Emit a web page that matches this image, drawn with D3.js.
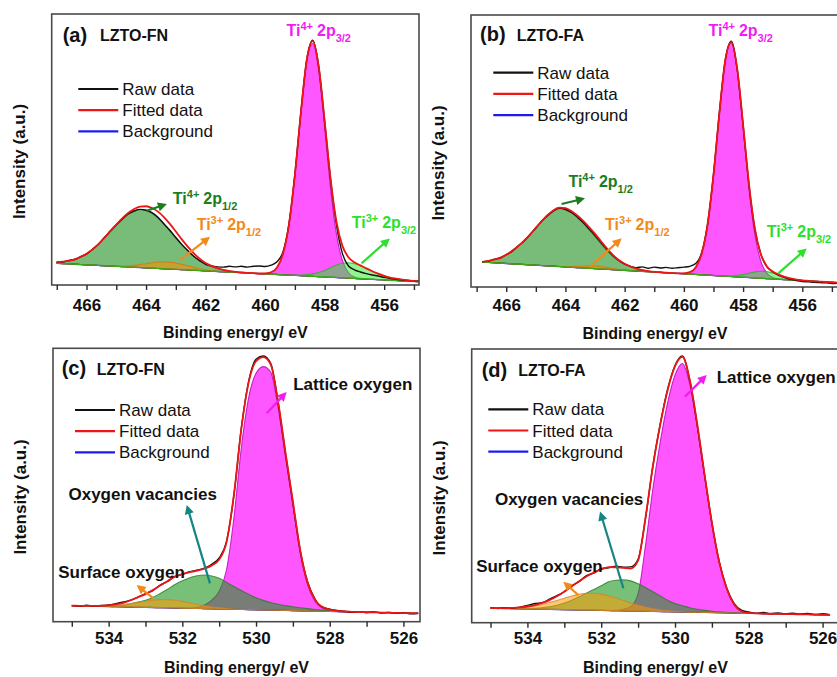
<!DOCTYPE html>
<html lang="en">
<head>
<meta charset="utf-8">
<title>XPS Ti 2p and O 1s spectra of LZTO-FN and LZTO-FA</title>
<script src="https://cdn.jsdelivr.net/npm/d3@7/dist/d3.min.js"></script>
<style>
  html, body { margin: 0; padding: 0; background: #fff; }
  svg { display: block; }
  text { font-family: "Liberation Sans", Arial, Helvetica, sans-serif; }
</style>
</head>
<body>
<svg id="chart" width="837" height="677"></svg>
<script>
// ===================== Ti 2p, LZTO-FN =====================
// binding energy grid (eV) and intensities (a.u., 0-100 full scale)
const tiEnergyFN = [
  467.0, 466.8, 466.6, 466.4, 466.2, 466.0, 465.8, 465.6, 465.4, 465.2,
  465.0, 464.8, 464.6, 464.4, 464.2, 464.0, 463.8, 463.6, 463.4, 463.2,
  463.0, 462.8, 462.6, 462.4, 462.2, 462.0, 461.8, 461.6, 461.4, 461.2,
  461.0, 460.8, 460.6, 460.4, 460.2, 460.0, 459.8, 459.6, 459.4, 459.2,
  459.0, 458.8, 458.6, 458.4, 458.2, 458.0, 457.8, 457.6, 457.4, 457.2,
  457.0, 456.8, 456.6, 456.4, 456.2, 456.0, 455.8, 455.6, 455.4, 455.2,
  455.0, 454.8
];
const tiRawFN = [
  8.6, 8.5, 9.1, 9.4, 10.5, 11.4, 13.2, 15.0, 17.5, 19.8,
  22.1, 24.3, 26.2, 27.3, 27.9, 27.6, 26.7, 25.0, 22.6, 20.2,
  17.5, 15.0, 12.7, 10.6, 9.0, 7.6, 7.0, 6.7, 6.6, 6.9,
  6.7, 6.9, 6.6, 6.9, 7.0, 6.8, 7.3, 8.6, 12.2, 22.5,
  40.8, 63.6, 83.3, 90.3, 80.8, 60.4, 38.8, 22.0, 11.5, 7.0,
  5.6, 4.8, 4.2, 3.7, 3.3, 2.8, 2.4, 2.1, 1.8, 1.65,
  1.5, 1.45
];
const tiBackgroundFN = [[467.0, 8.0], [454.8, 1.2]];
// fitted components (height above background)
const ti4p12FN = [
  0.4, 0.7, 1.1, 1.8, 2.8, 4.1, 5.8, 7.9, 10.3, 12.9,
  15.3, 17.6, 19.5, 20.8, 21.4, 21.2, 20.2, 18.6, 16.5, 14.1,
  11.6, 9.2, 7.1, 5.2, 3.7, 2.5, 1.7, 1.1, 0.65, 0.38,
  0.21, 0.12, 0.06, 0.03, 0, 0, 0, 0, 0, 0,
  0, 0, 0, 0, 0, 0, 0, 0, 0, 0,
  0, 0, 0, 0, 0, 0, 0, 0, 0, 0,
  0, 0
];
const ti3p12FN = [
  0, 0, 0, 0, 0, 0, 0, 0, 0, 0.05,
  0.11, 0.23, 0.42, 0.70, 1.08, 1.53, 1.98, 2.36, 2.57, 2.57,
  2.36, 1.98, 1.53, 1.08, 0.70, 0.42, 0.23, 0.11, 0.05, 0,
  0, 0, 0, 0, 0, 0, 0, 0, 0, 0,
  0, 0, 0, 0, 0, 0, 0, 0, 0, 0,
  0, 0, 0, 0, 0, 0, 0, 0, 0, 0,
  0, 0
];
const ti4p32FN = [
  0, 0, 0, 0, 0, 0, 0, 0, 0, 0,
  0, 0, 0, 0, 0, 0, 0, 0, 0, 0,
  0, 0, 0, 0, 0, 0, 0, 0, 0, 0,
  0, 0, 0, 0, 0.03, 0.16, 0.71, 2.6, 7.7, 18.6,
  36.9, 59.8, 79.3, 85.9, 76.1, 55.2, 32.7, 15.8, 6.3, 2.0,
  0.54, 0.12, 0.02, 0, 0, 0, 0, 0, 0, 0,
  0, 0
];
const ti3p32FN = [
  0, 0, 0, 0, 0, 0, 0, 0, 0, 0,
  0, 0, 0, 0, 0, 0, 0, 0, 0, 0,
  0, 0, 0, 0, 0, 0, 0, 0, 0, 0,
  0, 0, 0, 0, 0, 0, 0, 0, 0, 0.02,
  0.1, 0.25, 0.5, 0.9, 1.5, 2.4, 3.5, 4.6, 5.4, 5.7,
  5.4, 4.8, 3.9, 3.0, 2.2, 1.5, 1.0, 0.7, 0.45, 0.3,
  0.2, 0.12
];

// ===================== Ti 2p, LZTO-FA =====================
const tiEnergyFA = [
  466.8, 466.6, 466.4, 466.2, 466.0, 465.8, 465.6, 465.4, 465.2, 465.0,
  464.8, 464.6, 464.4, 464.2, 464.0, 463.8, 463.6, 463.4, 463.2, 463.0,
  462.8, 462.6, 462.4, 462.2, 462.0, 461.8, 461.6, 461.4, 461.2, 461.0,
  460.8, 460.6, 460.4, 460.2, 460.0, 459.8, 459.6, 459.4, 459.2, 459.0,
  458.8, 458.6, 458.4, 458.2, 458.0, 457.8, 457.6, 457.4, 457.2, 457.0,
  456.8, 456.6, 456.4, 456.2, 456.0, 455.8, 455.6, 455.4, 455.2, 455.0,
  454.8
];
const tiRawFA = [
  9.3, 9.5, 10.2, 10.6, 11.9, 13.1, 15.1, 16.8, 19.3, 21.6,
  24.3, 26.2, 28.0, 28.9, 28.5, 27.4, 25.7, 23.7, 21.4, 19.0,
  16.4, 13.9, 11.6, 9.8, 8.4, 7.6, 7.1, 7.4, 6.9, 7.3,
  7.0, 7.2, 6.9, 7.1, 7.3, 7.6, 8.6, 12.6, 23.0, 41.3,
  64.2, 83.6, 90.4, 80.2, 59.6, 37.5, 21.2, 12.0, 7.5, 5.5,
  4.3, 3.5, 2.8, 2.4, 2.0, 1.9, 1.7, 1.6, 1.5, 1.3,
  1.4
];
const tiBackgroundFA = [[466.8, 9.15], [454.8, 1.58]];
const ti4p12FA = [
  0.1, 0.6, 1.2, 2.0, 3.2, 4.8, 6.6, 8.7, 11.0, 13.8,
  16.3, 18.7, 20.6, 21.6, 21.5, 20.4, 18.7, 16.6, 14.2, 11.8,
  9.3, 7.0, 5.0, 3.4, 2.3, 1.5, 0.9, 0.5, 0.25, 0.1,
  0.05, 0, 0, 0, 0, 0, 0, 0, 0, 0,
  0, 0, 0, 0, 0, 0, 0, 0, 0, 0,
  0, 0, 0, 0, 0, 0, 0, 0, 0, 0,
  0
];
const ti3p12FA = [
  0, 0, 0, 0, 0, 0, 0, 0, 0, 0,
  0, 0, 0, 0.05, 0.12, 0.25, 0.45, 0.7, 0.9, 1.0,
  0.9, 0.7, 0.45, 0.25, 0.12, 0.05, 0, 0, 0, 0,
  0, 0, 0, 0, 0, 0, 0, 0, 0, 0,
  0, 0, 0, 0, 0, 0, 0, 0, 0, 0,
  0, 0, 0, 0, 0, 0, 0, 0, 0, 0,
  0
];
const ti4p32FA = [
  0, 0, 0, 0, 0, 0, 0, 0, 0, 0,
  0, 0, 0, 0, 0, 0, 0, 0, 0, 0,
  0, 0, 0, 0, 0, 0, 0, 0, 0, 0,
  0, 0, 0, 0.03, 0.16, 0.71, 2.6, 7.7, 18.6, 36.9,
  59.8, 79.3, 85.9, 76.1, 55.2, 32.7, 15.8, 6.3, 2.0, 0.54,
  0.12, 0.02, 0, 0, 0, 0, 0, 0, 0, 0,
  0
];
const ti3p32FA = [
  0, 0, 0, 0, 0, 0, 0, 0, 0, 0,
  0, 0, 0, 0, 0, 0, 0, 0, 0, 0,
  0, 0, 0, 0, 0, 0, 0, 0, 0, 0,
  0, 0, 0, 0, 0, 0, 0, 0, 0, 0,
  0.04, 0.1, 0.25, 0.55, 1.01, 1.61, 2.19, 2.55, 2.55, 2.19,
  1.61, 1.01, 0.55, 0.25, 0.1, 0.04, 0, 0, 0, 0,
  0
];

// ===================== O 1s, LZTO-FN =====================
const oEnergyFN = [
  535.0, 534.8, 534.6, 534.4, 534.2, 534.0, 533.8, 533.6, 533.4, 533.2,
  533.0, 532.8, 532.6, 532.4, 532.2, 532.0, 531.8, 531.6, 531.4, 531.2,
  531.0, 530.8, 530.6, 530.4, 530.2, 530.0, 529.8, 529.6, 529.4, 529.2,
  529.0, 528.8, 528.6, 528.4, 528.2, 528.0, 527.8, 527.6, 527.4, 527.2,
  527.0, 526.8, 526.6, 526.4, 526.2, 526.0, 525.8, 525.6
];
const oRawFN = [
  5.9, 5.6, 6.0, 5.7, 5.9, 6.1, 6.6, 7.2, 7.9, 9.0,
  10.3, 11.4, 13.4, 14.7, 16.6, 17.3, 18.3, 18.8, 19.6, 21.0,
  23.3, 29.4, 46.2, 70.6, 87.9, 96.0, 97.2, 94.4, 80.0, 61.5,
  43.6, 26.0, 14.5, 8.3, 5.3, 4.6, 4.1, 3.8, 3.4, 3.7,
  3.3, 3.6, 3.2, 3.4, 3.1, 3.3, 2.9, 3.1
];
const oBackgroundFN = [[535.0, 5.85], [525.6, 3.05]];
const latticeFN = [
  0, 0, 0, 0, 0, 0, 0, 0, 0, 0,
  0, 0, 0, 0, 0, 0, 0, 0.3, 1.3, 3.2,
  6.5, 14.5, 33.5, 59.0, 77.5, 86.5, 89.0, 87.0, 74.0, 56.0,
  38.5, 21.0, 9.5, 3.5, 1.2, 0.4, 0.1, 0, 0, 0,
  0, 0, 0, 0, 0, 0, 0, 0
];
const vacancyFN = [
  0, 0, 0, 0.02, 0.05, 0.1, 0.3, 0.6, 1.2, 1.9,
  2.6, 3.7, 5.2, 6.8, 8.6, 10.0, 11.2, 12.0, 12.3, 12.0,
  11.2, 9.8, 8.3, 6.9, 5.6, 4.4, 3.5, 2.8, 2.2, 1.75,
  1.4, 1.1, 0.85, 0.6, 0.4, 0.25, 0.15, 0.08, 0.04, 0.02,
  0, 0, 0, 0, 0, 0, 0, 0
];
const surfaceFN = [
  0, 0.02, 0.04, 0.08, 0.16, 0.3, 0.52, 0.84, 1.26, 1.75,
  2.24, 2.67, 2.94, 3.0, 2.83, 2.47, 2.0, 1.5, 1.04, 0.67,
  0.4, 0.22, 0.11, 0.05, 0.02, 0, 0, 0, 0, 0,
  0, 0, 0, 0, 0, 0, 0, 0, 0, 0,
  0, 0, 0, 0, 0, 0, 0, 0
];

// ===================== O 1s, LZTO-FA =====================
const oEnergyFA = [
  535.0, 534.8, 534.6, 534.4, 534.2, 534.0, 533.8, 533.6, 533.4, 533.2,
  533.0, 532.8, 532.6, 532.4, 532.2, 532.0, 531.8, 531.6, 531.4, 531.2,
  531.0, 530.8, 530.6, 530.4, 530.2, 530.0, 529.8, 529.6, 529.4, 529.2,
  529.0, 528.8, 528.6, 528.4, 528.2, 528.0, 527.8, 527.6, 527.4, 527.2,
  527.0, 526.8, 526.6, 526.4, 526.2, 526.0, 525.8
];
const oRawFA = [
  5.5, 5.2, 5.5, 5.3, 5.7, 6.3, 7.0, 7.3, 8.6, 9.9,
  11.3, 13.5, 15.0, 17.2, 18.1, 19.7, 20.1, 20.6, 20.3, 20.4,
  23.2, 38.0, 57.3, 72.6, 85.3, 94.0, 97.5, 88.5, 72.5, 54.1,
  36.6, 22.3, 12.8, 7.1, 4.6, 3.9, 3.4, 3.7, 3.3, 3.6,
  3.2, 3.5, 3.1, 3.4, 3.0, 3.3, 2.9
];
const oBackgroundFA = [[535.0, 5.3], [525.8, 2.85]];
const latticeFA = [
  0, 0, 0, 0, 0, 0, 0, 0, 0, 0,
  0, 0, 0, 0, 0, 0, 0, 0.14, 0.6, 1.6,
  6.4, 24.1, 44.8, 62.0, 76.4, 86.5, 90.8, 83.3, 67.9, 49.8,
  32.2, 18.1, 8.7, 3.1, 0.66, 0.13, 0, 0, 0, 0,
  0, 0, 0, 0, 0, 0, 0
];
const vacancyFA = [
  0, 0, 0, 0.03, 0.08, 0.15, 0.3, 0.55, 0.9, 1.5,
  2.4, 3.5, 4.8, 6.2, 7.6, 9.0, 10.5, 11.1, 11.3, 11.0,
  10.0, 8.7, 7.2, 5.7, 4.2, 3.0, 2.3, 1.6, 1.1, 0.75,
  0.5, 0.3, 0.18, 0.1, 0.05, 0, 0, 0, 0, 0,
  0, 0, 0, 0, 0, 0, 0
];
const surfaceFA = [
  0.03, 0.07, 0.14, 0.25, 0.44, 0.74, 1.17, 1.75, 2.48, 3.32,
  4.2, 5.03, 5.7, 6.1, 6.19, 5.94, 5.39, 4.63, 3.76, 2.89,
  2.1, 1.44, 0.94, 0.58, 0.34, 0.19, 0.1, 0.05, 0.02, 0,
  0, 0, 0, 0, 0, 0, 0, 0, 0, 0,
  0, 0, 0, 0, 0, 0, 0
];

// ===================== axis ticks and text =====================
const tiMajorTicks = [466, 464, 462, 460, 458, 456];
const tiMinorTicks = [467, 465, 463, 461, 459, 457, 455];
const oMajorTicks = [534, 532, 530, 528, 526];
const oMinorTicks = [535, 533, 531, 529, 527];
const legendLabels = ["Raw data", "Fitted data", "Background"];
const xAxisTitle = "Binding energy/ eV";
const yAxisTitle = "Intensity (a.u.)";

// ===================== styling =====================
const FONT = '"Liberation Sans", Arial, Helvetica, sans-serif';
const STYLE = {
  ti4p32:  { fill: "#ff00ff", opacity: 0.66, stroke: "#b400b4" },
  ti4p12:  { fill: "#1f8f1f", opacity: 0.60, stroke: "#0d5c0d" },
  ti3p12:  { fill: "#ff8c00", opacity: 0.55, stroke: "#d97800" },
  ti3p32:  { fill: "#22ee22", opacity: 0.50, stroke: "#19b819" },
  lattice: { fill: "#ff00ff", opacity: 0.66, stroke: "#b400b4" },
  vacancy: { fill: "#1e961e", opacity: 0.60, stroke: "#2a7a2a" },
  surface: { fill: "#ff9900", opacity: 0.55, stroke: "#d9822b" }
};
const RAW_COLOR = "#111111";
const FIT_COLOR = "#ee1515";
const BG_COLOR = "#1c1cf0";
const C = { magenta: "#f21cf2", dkgreen: "#1b7d1b", orange: "#f28a1a", ltgreen: "#2ee02e", teal: "#148585", text: "#111111" };

// ===================== panels =====================
const panels = [
  {
    tag: "(a)", name: "LZTO-FN",
    energy: tiEnergyFN, raw: tiRawFN, background: tiBackgroundFN,
    components: [
      { values: ti4p32FN, style: STYLE.ti4p32 },
      { values: ti4p12FN, style: STYLE.ti4p12 },
      { values: ti3p12FN, style: STYLE.ti3p12 },
      { values: ti3p32FN, style: STYLE.ti3p32 }
    ],
    major: tiMajorTicks, minor: tiMinorTicks,
    layout: { left: 51.7, right: 419, top: 14, bottom: 285, eMax: 467.17, eMin: 454.83,
              tickPad: 9, titleY: 338, tagDx: 11, nameDx: 48.3, tagDy: 27.5,
              legDx: 26.6, legDy: 75 },
    ionLabels: [
      { e: 459.28, v: 91.9, charge: "4+", j: "3/2", color: C.magenta },
      { e: 463.10, v: 29.9, charge: "4+", j: "1/2", color: C.dkgreen },
      { e: 462.30, v: 20.3, charge: "3+", j: "1/2", color: C.orange },
      { e: 457.09, v: 20.9, charge: "3+", j: "3/2", color: C.ltgreen }
    ],
    textLabels: [],
    arrows: [
      { from: [463.98, 27.4], to: [463.30, 29.9], color: C.dkgreen },
      { from: [462.86, 9.2], to: [461.85, 17.8], color: C.orange },
      { from: [456.76, 8.0], to: [455.81, 17.2], color: C.ltgreen }
    ]
  },
  {
    tag: "(b)", name: "LZTO-FA",
    energy: tiEnergyFA, raw: tiRawFA, background: tiBackgroundFA,
    components: [
      { values: ti4p32FA, style: STYLE.ti4p32 },
      { values: ti4p12FA, style: STYLE.ti4p12 },
      { values: ti3p12FA, style: STYLE.ti3p12 },
      { values: ti3p32FA, style: STYLE.ti3p32 }
    ],
    major: tiMajorTicks, minor: tiMinorTicks,
    layout: { left: 471, right: 839, top: 15, bottom: 287, eMax: 467.19, eMin: 454.76,
              tickPad: 7, titleY: 338.5, tagDx: 9, nameDx: 45.7, tagDy: 26,
              legDx: 22.3, legDy: 57.7 },
    ionLabels: [
      { e: 459.17, v: 92.3, charge: "4+", j: "3/2", color: C.magenta },
      { e: 463.90, v: 36.9, charge: "4+", j: "1/2", color: C.dkgreen },
      { e: 462.66, v: 21.0, charge: "3+", j: "1/2", color: C.orange },
      { e: 457.20, v: 18.3, charge: "3+", j: "3/2", color: C.ltgreen }
    ],
    textLabels: [],
    arrows: [
      { from: [464.13, 30.5], to: [463.34, 32.6], color: C.dkgreen },
      { from: [463.17, 7.5], to: [462.10, 17.9], color: C.orange },
      { from: [456.81, 5.0], to: [455.85, 14.2], color: C.ltgreen }
    ]
  },
  {
    tag: "(c)", name: "LZTO-FN",
    energy: oEnergyFN, raw: oRawFN, background: oBackgroundFN,
    components: [
      { values: latticeFN, style: STYLE.lattice },
      { values: vacancyFN, style: STYLE.vacancy },
      { values: surfaceFN, style: STYLE.surface }
    ],
    major: oMajorTicks, minor: oMinorTicks,
    layout: { left: 53, right: 420, top: 348.3, bottom: 621.7, eMax: 535.51, eMin: 525.55,
              tickPad: 5, titleY: 672.5, tagDx: 8.7, nameDx: 43.7, tagDy: 26.7,
              legDx: 22, legDy: 61.7 },
    ionLabels: [],
    textLabels: [
      { e: 528.99, v: 84.7, text: "Lattice oxygen" },
      { e: 535.09, v: 44.5, text: "Oxygen vacancies" },
      { e: 535.37, v: 15.9, text: "Surface oxygen" }
    ],
    arrows: [
      { from: [529.71, 76.2], to: [529.17, 84.0], color: C.magenta },
      { from: [531.25, 14.0], to: [531.88, 42.7], color: C.teal },
      { from: [532.79, 8.6], to: [533.24, 13.4], color: C.orange }
    ]
  },
  {
    tag: "(d)", name: "LZTO-FA",
    energy: oEnergyFA, raw: oRawFA, background: oBackgroundFA,
    components: [
      { values: latticeFA, style: STYLE.lattice },
      { values: vacancyFA, style: STYLE.vacancy },
      { values: surfaceFA, style: STYLE.surface }
    ],
    major: oMajorTicks, minor: oMinorTicks,
    layout: { left: 471.7, right: 839.2, top: 349, bottom: 622.7, eMax: 535.51, eMin: 525.55,
              tickPad: 4.5, titleY: 673, tagDx: 10, nameDx: 46.6, tagDy: 27.7,
              legDx: 16.6, legDy: 60.3 },
    ionLabels: [],
    textLabels: [
      { e: 528.87, v: 87.5, text: "Lattice oxygen" },
      { e: 534.88, v: 43.0, text: "Oxygen vacancies" },
      { e: 535.39, v: 18.6, text: "Surface oxygen" }
    ],
    arrows: [
      { from: [529.73, 82.6], to: [529.14, 90.5], color: C.magenta },
      { from: [531.40, 12.6], to: [532.03, 40.6], color: C.teal },
      { from: [532.62, 10.1], to: [533.03, 15.0], color: C.orange }
    ]
  }
];

// ===================== drawing =====================
const svg = d3.select("#chart");
const defs = svg.append("defs");
svg.append("rect").attr("width", 837).attr("height", 677).attr("fill", "#fff");

function arrow(g, p1, p2, color) {
  const dx = p2[0] - p1[0], dy = p2[1] - p1[1];
  const len = Math.hypot(dx, dy), ux = dx / len, uy = dy / len;
  const headL = 9, headW = 4.6;
  const bx = p2[0] - ux * headL, by = p2[1] - uy * headL;
  g.append("line").attr("x1", p1[0]).attr("y1", p1[1]).attr("x2", bx + ux).attr("y2", by + uy)
    .attr("stroke", color).attr("stroke-width", 2.2);
  g.append("path")
    .attr("d", `M${p2[0]},${p2[1]}L${bx - uy * headW},${by + ux * headW}L${bx + uy * headW},${by - ux * headW}Z`)
    .attr("fill", color);
}

panels.forEach((p, idx) => {
  const L = p.layout;
  const E = p.energy;
  [p.raw, ...p.components.map(c => c.values)].forEach(arr => {
    if (arr.length !== E.length) throw new Error(`panel ${p.tag}: series length ${arr.length} != ${E.length}`);
  });

  const x = d3.scaleLinear().domain([L.eMax, L.eMin]).range([L.left, L.right]);
  const y = d3.scaleLinear().domain([0, 100]).range([L.bottom, L.top]);
  const base = d3.scaleLinear().domain(p.background.map(d => d[0])).range(p.background.map(d => d[1]));

  defs.append("clipPath").attr("id", "clip" + idx).append("rect")
    .attr("x", L.left).attr("y", L.top).attr("width", L.right - L.left).attr("height", L.bottom - L.top);

  const g = svg.append("g");
  const plot = g.append("g").attr("clip-path", `url(#clip${idx})`);

  const line = d3.line().curve(d3.curveMonotoneX).x(d => x(d[0])).y(d => y(d[1]));

  // background line
  plot.append("path").datum(E.map(e => [e, base(e)]))
    .attr("d", d3.line().x(d => x(d[0])).y(d => y(d[1])))
    .attr("fill", "none").attr("stroke", BG_COLOR).attr("stroke-width", 1.3);

  // fitted component peaks, filled down to the background
  const area = d3.area().curve(d3.curveMonotoneX)
    .x(d => x(d[0])).y0(d => y(d[1])).y1(d => y(d[2]));
  p.components.forEach(c => {
    const pts = E.map((e, i) => [e, base(e), base(e) + c.values[i]]);
    plot.append("path").datum(pts).attr("d", area)
      .attr("fill", c.style.fill).attr("fill-opacity", c.style.opacity)
      .attr("stroke", c.style.stroke).attr("stroke-opacity", 0.8).attr("stroke-width", 1.1);
  });

  // raw spectrum
  plot.append("path").datum(E.map((e, i) => [e, p.raw[i]])).attr("d", line)
    .attr("fill", "none").attr("stroke", RAW_COLOR).attr("stroke-width", 1.4);

  // fitted envelope = background + sum of components
  const fit = E.map((e, i) => [e, base(e) + d3.sum(p.components, c => c.values[i])]);
  plot.append("path").datum(fit).attr("d", line)
    .attr("fill", "none").attr("stroke", FIT_COLOR).attr("stroke-width", 1.8);

  // frame
  g.append("rect").attr("x", L.left).attr("y", L.top)
    .attr("width", L.right - L.left).attr("height", L.bottom - L.top)
    .attr("fill", "none").attr("stroke", "#4a4a4a").attr("stroke-width", 1.6);

  // bottom axis: labelled major ticks + unlabelled minor ticks
  const styleAxis = sel => {
    sel.select(".domain").remove();
    sel.attr("color", "#2a2a2a").attr("font-family", FONT);
    sel.selectAll(".tick line").attr("stroke-width", 1.4);
  };
  g.append("g").attr("transform", `translate(0,${L.bottom})`)
    .call(d3.axisBottom(x).tickValues(p.major).tickSize(5).tickPadding(L.tickPad).tickFormat(d3.format("d")))
    .call(styleAxis)
    .call(s => s.selectAll(".tick text").attr("font-size", 17).attr("font-weight", "bold").attr("fill", C.text));
  g.append("g").attr("transform", `translate(0,${L.bottom})`)
    .call(d3.axisBottom(x).tickValues(p.minor).tickSize(5).tickFormat(() => ""))
    .call(styleAxis);

  // axis titles
  g.append("text").attr("x", (L.left + L.right) / 2).attr("y", L.titleY)
    .attr("text-anchor", "middle").attr("font-size", 16).attr("font-weight", "bold")
    .attr("fill", C.text).text(xAxisTitle);
  g.append("text")
    .attr("transform", `translate(${L.left - 32.5},${(L.top + L.bottom) / 2 + 12}) rotate(-90)`)
    .attr("text-anchor", "middle").attr("dominant-baseline", "central")
    .attr("font-size", 17).attr("font-weight", "bold").attr("fill", C.text).text(yAxisTitle);

  // panel tag and sample name
  g.append("text").attr("x", L.left + L.tagDx).attr("y", L.top + L.tagDy)
    .attr("font-size", 20).attr("font-weight", "bold").attr("fill", C.text).text(p.tag);
  g.append("text").attr("x", L.left + L.nameDx).attr("y", L.top + L.tagDy - 0.5)
    .attr("font-size", 16).attr("font-weight", "bold").attr("fill", C.text).text(p.name);

  // legend
  const legColors = [RAW_COLOR, FIT_COLOR, BG_COLOR];
  legendLabels.forEach((lab, k) => {
    const ly = L.top + L.legDy + k * 21.2;
    const lx = L.left + L.legDx;
    g.append("line").attr("x1", lx).attr("x2", lx + 40).attr("y1", ly).attr("y2", ly)
      .attr("stroke", legColors[k]).attr("stroke-width", 2.2);
    g.append("text").attr("x", lx + 44).attr("y", ly + 6)
      .attr("font-size", 17).attr("fill", C.text).text(lab);
  });

  // peak assignment labels
  p.ionLabels.forEach(a => {
    const t = g.append("text").attr("x", x(a.e)).attr("y", y(a.v))
      .attr("font-size", 16).attr("font-weight", "bold").attr("fill", a.color);
    t.append("tspan").text("Ti");
    t.append("tspan").attr("dy", -6).attr("font-size", 11).text(a.charge);
    t.append("tspan").attr("dy", 6).attr("dx", 4).text("2p");
    t.append("tspan").attr("dy", 6).attr("font-size", 11).text(a.j);
  });
  p.textLabels.forEach(a => {
    g.append("text").attr("x", x(a.e)).attr("y", y(a.v))
      .attr("font-size", 17).attr("font-weight", "bold").attr("fill", C.text).text(a.text);
  });
  p.arrows.forEach(a => {
    arrow(g, [x(a.from[0]), y(a.from[1])], [x(a.to[0]), y(a.to[1])], a.color);
  });
});
</script>
</body>
</html>
